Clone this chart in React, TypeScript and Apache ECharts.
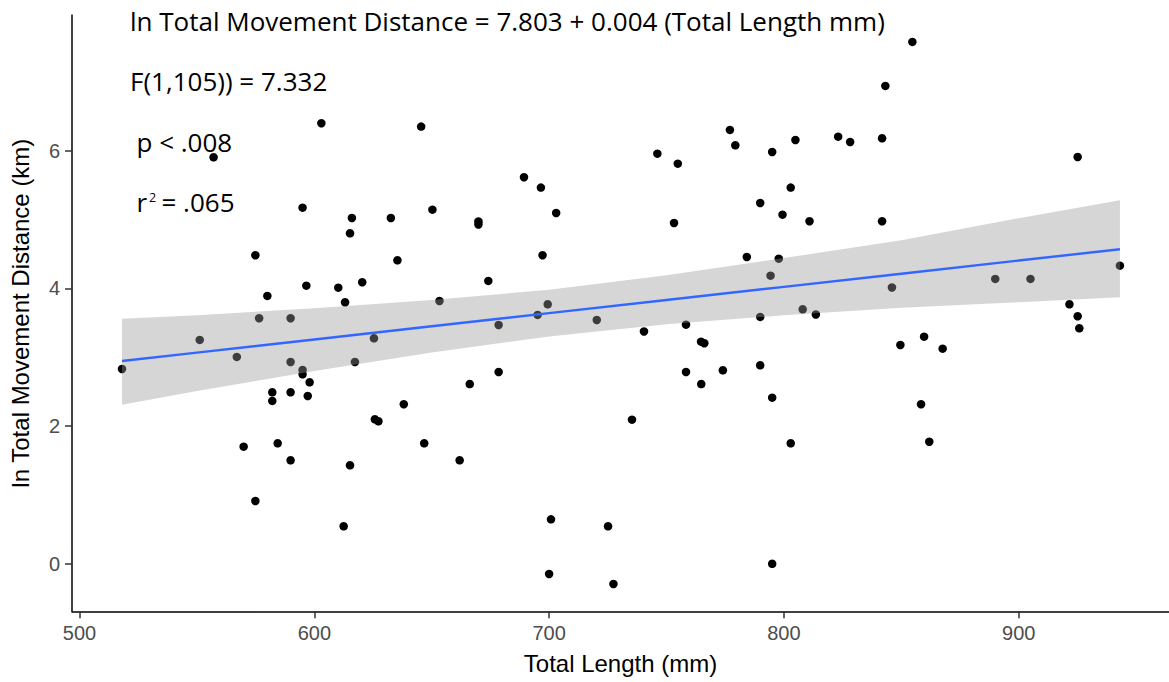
import React, { useEffect, useRef } from "react";
import * as echarts from "echarts";

// Total Length (mm)
const lengthMm = [
  518.1, 551.2, 557.1, 567.0, 569.9, 574.9, 574.9, 576.5, 580.0, 582.1,
  582.1, 584.4, 589.9, 589.9, 589.9, 589.9, 595.0, 595.0, 595.0, 596.6,
  597.2, 598.0, 603.0, 610.2, 612.5, 613.1, 615.2, 615.2, 616.0, 617.3,
  620.4, 625.4, 625.8, 627.3, 632.6, 635.4, 638.1, 645.5, 646.8, 650.3,
  653.3, 661.9, 666.2, 669.9, 669.9, 674.1, 678.5, 678.5, 689.3, 695.1,
  696.5, 697.2, 699.4, 700.0, 700.8, 703.0, 720.3, 725.1, 727.4, 735.3,
  740.4, 746.1, 753.2, 754.8, 758.3, 758.3, 764.7, 766.1, 764.8, 774.0,
  777.0, 779.3, 784.2, 789.9, 789.9, 789.9, 794.3, 795.0, 795.0, 795.0,
  797.8, 799.4, 802.9, 802.9, 804.9, 808.0, 810.9, 813.6, 823.1, 828.2,
  841.8, 841.8, 843.2, 846.0, 849.6, 854.7, 858.4, 859.7, 861.9, 867.6,
  890.0, 905.0, 921.6, 925.1, 925.1, 925.8, 943.1,
];

// ln Total Movement Distance (km)
const lnDistance = [
  2.829, 3.251, 5.904, 3.004, 1.701, 4.481, 0.912, 3.566, 3.890, 2.491,
  2.365, 1.750, 3.566, 2.931, 2.491, 1.503, 5.172, 2.815, 2.752, 4.039,
  2.437, 2.636, 6.398, 4.010, 0.545, 3.798, 4.800, 1.431, 5.022, 2.931,
  4.089, 3.275, 2.099, 2.070, 5.022, 4.408, 2.317, 6.349, 1.750, 5.143,
  3.817, 1.503, 2.611, 4.972, 4.928, 4.108, 3.468, 2.786, 5.614, 3.614,
  5.463, 4.481, 3.769, -0.148, 0.646, 5.095, 3.541, 0.545, -0.293, 2.093,
  3.374, 5.956, 4.950, 5.811, 3.473, 2.786, 3.226, 3.203, 2.611, 2.810,
  6.301, 6.078, 4.456, 5.240, 3.585, 2.883, 4.184, 5.981, 2.413, 0.0,
  4.431, 5.070, 5.463, 1.750, 6.155, 3.696, 4.975, 3.621, 6.203, 6.126,
  6.180, 4.975, 6.940, 4.013, 3.178, 7.579, 2.317, 3.299, 1.773, 3.124,
  4.137, 4.137, 3.769, 5.908, 3.595, 3.420, 4.330,
];

// Fitted line and 95% confidence band
const fitX = [518.1, 550, 600, 650, 700, 750, 800, 850, 900, 943.1];
const fitY = [2.945, 3.067, 3.258, 3.449, 3.640, 3.831, 4.022, 4.213, 4.404, 4.568];
const bandLow = [2.31, 2.51, 2.80, 3.07, 3.30, 3.48, 3.61, 3.72, 3.80, 3.87];
const bandHigh = [3.56, 3.61, 3.71, 3.83, 3.98, 4.19, 4.44, 4.70, 5.02, 5.28];

const xTicks = [500, 600, 700, 800, 900];
const yTicks = [0, 2, 4, 6];

const annoFont = "'Open Sans', Lato, sans-serif";
const axisFont = "'Liberation Sans', Arial, sans-serif";

export default function App() {
  const ref = useRef<HTMLDivElement>(null);

  useEffect(() => {
    if (!ref.current) return;
    const chart = echarts.init(ref.current, null, { renderer: "svg" });

    const points = lengthMm.map((x, i) => [x, lnDistance[i]]);
    const fit = fitX.map((x, i) => [x, fitY[i]]);

    const option: any = {
      animation: false,
      backgroundColor: "#ffffff",
      grid: { left: 70.3, top: 15, width: 1098.9, height: 596.3, containLabel: false },
      xAxis: {
        type: "value",
        min: 496.8,
        max: 964,
        name: "Total Length (mm)",
        nameLocation: "middle",
        nameGap: 40,
        nameTextStyle: { color: "#000", fontSize: 24, fontFamily: axisFont },
        axisLine: { show: true, onZero: false, lineStyle: { color: "#000", width: 1.5 } },
        axisTick: { show: true, length: 7, lineStyle: { color: "#333", width: 1.5 }, customValues: xTicks },
        axisLabel: { color: "#4D4D4D", fontSize: 20, margin: 12, fontFamily: axisFont, customValues: xTicks },
        splitLine: { show: false },
      },
      yAxis: {
        type: "value",
        min: -0.69,
        max: 7.97,
        name: "ln Total Movement Distance (km)",
        nameLocation: "middle",
        nameGap: 40,
        nameTextStyle: { color: "#000", fontSize: 24, fontFamily: axisFont },
        axisLine: { show: true, onZero: false, lineStyle: { color: "#000", width: 1.5 } },
        axisTick: { show: true, length: 7, lineStyle: { color: "#333", width: 1.5 }, customValues: yTicks },
        axisLabel: { color: "#4D4D4D", fontSize: 20, margin: 12, fontFamily: axisFont, customValues: yTicks },
        splitLine: { show: false },
      },
      series: [
        {
          type: "scatter",
          data: points,
          symbolSize: 8.5,
          itemStyle: { color: "#000", opacity: 1 },
          z: 2,
        },
        {
          type: "custom",
          data: [[fitX[0], bandLow[0]]],
          encode: { x: 0, y: 1 },
          z: 3,
          silent: true,
          renderItem: (params: any, api: any) => {
            const pts: number[][] = [];
            for (let i = 0; i < fitX.length; i++) pts.push(api.coord([fitX[i], bandHigh[i]]));
            for (let i = fitX.length - 1; i >= 0; i--) pts.push(api.coord([fitX[i], bandLow[i]]));
            return {
              type: "polygon",
              shape: { points: pts },
              style: { fill: "rgba(153,153,153,0.4)", stroke: "none" },
            };
          },
        },
        {
          type: "line",
          data: fit,
          showSymbol: false,
          symbol: "none",
          lineStyle: { color: "#3366FF", width: 2.4 },
          z: 4,
          silent: true,
        },
      ],
      graphic: [
        {
          type: "text",
          left: 130,
          top: 7.6,
          style: { text: "ln Total Movement Distance = 7.803 + 0.004 (Total Length mm)", font: `26px ${annoFont}`, fill: "#000" },
        },
        {
          type: "text",
          left: 130,
          top: 67.6,
          style: { text: "F(1,105)) = 7.332", font: `26px ${annoFont}`, fill: "#000" },
        },
        {
          type: "text",
          left: 136.5,
          top: 129,
          style: { text: "p < .008", font: `26px ${annoFont}`, fill: "#000" },
        },
        {
          type: "text",
          left: 136.5,
          top: 188.6,
          style: { text: "r", font: `26px ${annoFont}`, fill: "#000" },
        },
        {
          type: "text",
          left: 149,
          top: 190.5,
          style: { text: "2", font: `12.5px ${annoFont}`, fill: "#000" },
        },
        {
          type: "text",
          left: 161.5,
          top: 188.6,
          style: { text: "= .065", font: `26px ${annoFont}`, fill: "#000" },
        },
      ],
    };

    chart.setOption(option);
    return () => chart.dispose();
  }, []);

  return (
    <div
      ref={ref}
      style={{ position: "absolute", left: 0, top: 0, width: 1169, height: 682, background: "#fff" }}
    />
  );
}
